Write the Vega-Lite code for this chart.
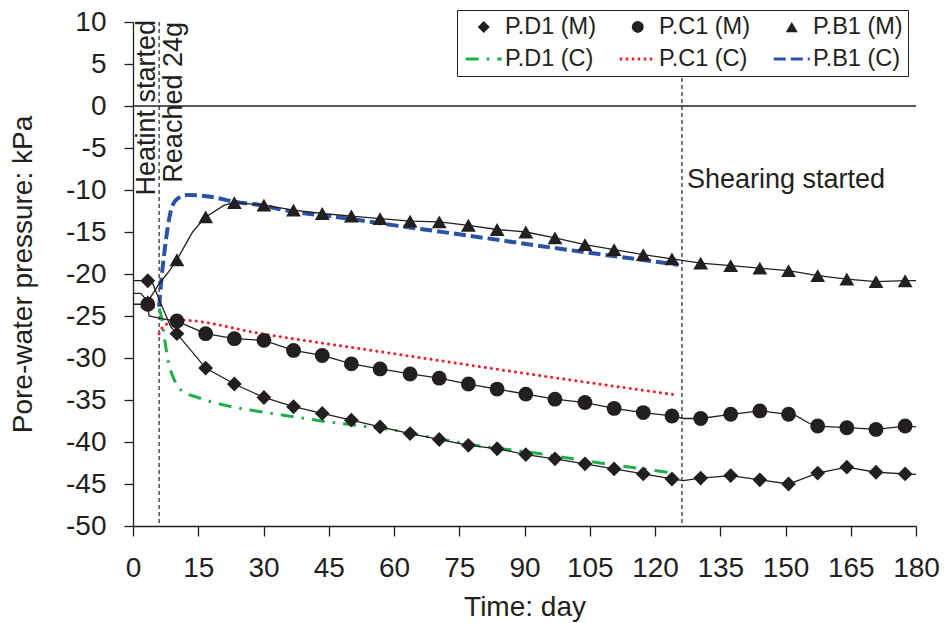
{
  "$schema": "https://vega.github.io/schema/vega-lite/v6.json",
  "width": 783,
  "height": 504,
  "autosize": {"type": "none"},
  "padding": {"left": 133, "top": 22, "right": 31, "bottom": 97},
  "background": "white",
  "config": {
    "font": "Liberation Sans",
    "view": {"stroke": null},
    "axis": {
      "grid": false,
      "domainColor": "#231f20",
      "domainWidth": 1.3,
      "tickColor": "#231f20",
      "tickWidth": 1.3,
      "labelColor": "#231f20",
      "titleColor": "#231f20",
      "labelFont": "Liberation Sans",
      "titleFont": "Liberation Sans",
      "labelFontSize": 28,
      "titleFontSize": 28,
      "titleFontWeight": "normal",
      "labelPadding": 18,
      "labelOverlap": false
    },
    "axisX": {"tickSize": 10, "labelFlush": false, "titlePadding": 11},
    "axisY": {"tickSize": 9, "titlePadding": 28},
    "legend": {
      "orient": "none",
      "legendX": 324,
      "legendY": -12,
      "direction": "horizontal",
      "columns": 3,
      "symbolSize": 144,
      "symbolStrokeWidth": 3,
      "labelFont": "Liberation Sans",
      "labelFontSize": 23.5,
      "labelColor": "#231f20",
      "labelLimit": 300,
      "padding": 5,
      "rowPadding": 7.3,
      "columnPadding": 17,
      "symbolOffset": 10,
      "labelOffset": 9.5,
      "strokeColor": "#231f20",
      "fillColor": "white"
    }
  },
  "datasets": {
    "measured": [
      {"series": "P.D1 (M)", "day": 0, "kpa": -20.8},
      {"series": "P.D1 (M)", "day": 3.4, "kpa": -20.8},
      {"series": "P.D1 (M)", "day": 4.5, "kpa": -21.1},
      {"series": "P.D1 (M)", "day": 6.4, "kpa": -23.5},
      {"series": "P.D1 (M)", "day": 8.7, "kpa": -26.3},
      {"series": "P.D1 (M)", "day": 10.1, "kpa": -27.1},
      {"series": "P.D1 (M)", "day": 16.7, "kpa": -31.2},
      {"series": "P.D1 (M)", "day": 23.3, "kpa": -33.1},
      {"series": "P.D1 (M)", "day": 30.1, "kpa": -34.7},
      {"series": "P.D1 (M)", "day": 36.9, "kpa": -35.8},
      {"series": "P.D1 (M)", "day": 43.5, "kpa": -36.6},
      {"series": "P.D1 (M)", "day": 50.2, "kpa": -37.4},
      {"series": "P.D1 (M)", "day": 56.8, "kpa": -38.2},
      {"series": "P.D1 (M)", "day": 63.7, "kpa": -39.0},
      {"series": "P.D1 (M)", "day": 70.4, "kpa": -39.7},
      {"series": "P.D1 (M)", "day": 77.1, "kpa": -40.4},
      {"series": "P.D1 (M)", "day": 83.7, "kpa": -40.8},
      {"series": "P.D1 (M)", "day": 90.3, "kpa": -41.5},
      {"series": "P.D1 (M)", "day": 97.0, "kpa": -42.0},
      {"series": "P.D1 (M)", "day": 103.9, "kpa": -42.6},
      {"series": "P.D1 (M)", "day": 110.6, "kpa": -43.2},
      {"series": "P.D1 (M)", "day": 117.3, "kpa": -43.8},
      {"series": "P.D1 (M)", "day": 123.9, "kpa": -44.4},
      {"series": "P.D1 (M)", "day": 126.5, "kpa": -44.6},
      {"series": "P.D1 (M)", "day": 130.5, "kpa": -44.3},
      {"series": "P.D1 (M)", "day": 137.4, "kpa": -44.0},
      {"series": "P.D1 (M)", "day": 144.1, "kpa": -44.5},
      {"series": "P.D1 (M)", "day": 150.7, "kpa": -45.0},
      {"series": "P.D1 (M)", "day": 157.4, "kpa": -43.7},
      {"series": "P.D1 (M)", "day": 164.1, "kpa": -43.0},
      {"series": "P.D1 (M)", "day": 170.8, "kpa": -43.6},
      {"series": "P.D1 (M)", "day": 177.5, "kpa": -43.8},
      {"series": "P.D1 (M)", "day": 180, "kpa": -43.85},

      {"series": "P.C1 (M)", "day": 0, "kpa": -23.6},
      {"series": "P.C1 (M)", "day": 3.4, "kpa": -23.6},
      {"series": "P.C1 (M)", "day": 3.7, "kpa": -25.0},
      {"series": "P.C1 (M)", "day": 6.5, "kpa": -25.3},
      {"series": "P.C1 (M)", "day": 10.1, "kpa": -25.6},
      {"series": "P.C1 (M)", "day": 16.7, "kpa": -27.1},
      {"series": "P.C1 (M)", "day": 23.3, "kpa": -27.7},
      {"series": "P.C1 (M)", "day": 30.1, "kpa": -27.9},
      {"series": "P.C1 (M)", "day": 36.9, "kpa": -29.1},
      {"series": "P.C1 (M)", "day": 43.5, "kpa": -29.7},
      {"series": "P.C1 (M)", "day": 50.2, "kpa": -30.7},
      {"series": "P.C1 (M)", "day": 56.8, "kpa": -31.3},
      {"series": "P.C1 (M)", "day": 63.7, "kpa": -31.9},
      {"series": "P.C1 (M)", "day": 70.4, "kpa": -32.4},
      {"series": "P.C1 (M)", "day": 77.1, "kpa": -33.1},
      {"series": "P.C1 (M)", "day": 83.7, "kpa": -33.7},
      {"series": "P.C1 (M)", "day": 90.3, "kpa": -34.3},
      {"series": "P.C1 (M)", "day": 97.0, "kpa": -34.9},
      {"series": "P.C1 (M)", "day": 103.9, "kpa": -35.3},
      {"series": "P.C1 (M)", "day": 110.6, "kpa": -36.0},
      {"series": "P.C1 (M)", "day": 117.3, "kpa": -36.5},
      {"series": "P.C1 (M)", "day": 123.9, "kpa": -36.9},
      {"series": "P.C1 (M)", "day": 126.5, "kpa": -37.2},
      {"series": "P.C1 (M)", "day": 130.5, "kpa": -37.2},
      {"series": "P.C1 (M)", "day": 137.4, "kpa": -36.7},
      {"series": "P.C1 (M)", "day": 144.1, "kpa": -36.3},
      {"series": "P.C1 (M)", "day": 150.7, "kpa": -36.7},
      {"series": "P.C1 (M)", "day": 152.5, "kpa": -36.9},
      {"series": "P.C1 (M)", "day": 155.5, "kpa": -37.8},
      {"series": "P.C1 (M)", "day": 157.4, "kpa": -38.1},
      {"series": "P.C1 (M)", "day": 164.1, "kpa": -38.3},
      {"series": "P.C1 (M)", "day": 170.8, "kpa": -38.5},
      {"series": "P.C1 (M)", "day": 177.5, "kpa": -38.1},
      {"series": "P.C1 (M)", "day": 180, "kpa": -38.2},

      {"series": "P.B1 (M)", "day": 0, "kpa": -22.3},
      {"series": "P.B1 (M)", "day": 1.8, "kpa": -22.3},
      {"series": "P.B1 (M)", "day": 3.4, "kpa": -23.3},
      {"series": "P.B1 (M)", "day": 6.1, "kpa": -21.1},
      {"series": "P.B1 (M)", "day": 8.4, "kpa": -19.6},
      {"series": "P.B1 (M)", "day": 10.1, "kpa": -18.3},
      {"series": "P.B1 (M)", "day": 12.6, "kpa": -16.0},
      {"series": "P.B1 (M)", "day": 13.7, "kpa": -15.0},
      {"series": "P.B1 (M)", "day": 16.7, "kpa": -13.2},
      {"series": "P.B1 (M)", "day": 21.0, "kpa": -11.8},
      {"series": "P.B1 (M)", "day": 23.3, "kpa": -11.5},
      {"series": "P.B1 (M)", "day": 30.1, "kpa": -11.8},
      {"series": "P.B1 (M)", "day": 36.9, "kpa": -12.4},
      {"series": "P.B1 (M)", "day": 43.5, "kpa": -12.8},
      {"series": "P.B1 (M)", "day": 50.2, "kpa": -13.1},
      {"series": "P.B1 (M)", "day": 56.8, "kpa": -13.4},
      {"series": "P.B1 (M)", "day": 63.7, "kpa": -13.7},
      {"series": "P.B1 (M)", "day": 70.4, "kpa": -13.8},
      {"series": "P.B1 (M)", "day": 77.1, "kpa": -14.2},
      {"series": "P.B1 (M)", "day": 83.7, "kpa": -14.7},
      {"series": "P.B1 (M)", "day": 90.3, "kpa": -15.0},
      {"series": "P.B1 (M)", "day": 97.0, "kpa": -15.7},
      {"series": "P.B1 (M)", "day": 103.9, "kpa": -16.5},
      {"series": "P.B1 (M)", "day": 110.6, "kpa": -17.1},
      {"series": "P.B1 (M)", "day": 117.3, "kpa": -17.7},
      {"series": "P.B1 (M)", "day": 123.9, "kpa": -18.2},
      {"series": "P.B1 (M)", "day": 130.5, "kpa": -18.7},
      {"series": "P.B1 (M)", "day": 137.4, "kpa": -19.0},
      {"series": "P.B1 (M)", "day": 144.1, "kpa": -19.3},
      {"series": "P.B1 (M)", "day": 150.7, "kpa": -19.6},
      {"series": "P.B1 (M)", "day": 157.4, "kpa": -20.2},
      {"series": "P.B1 (M)", "day": 164.1, "kpa": -20.6},
      {"series": "P.B1 (M)", "day": 170.8, "kpa": -20.9},
      {"series": "P.B1 (M)", "day": 177.5, "kpa": -20.8},
      {"series": "P.B1 (M)", "day": 180, "kpa": -20.8}
    ],
    "markers": [
      {"series": "P.D1 (M)", "day": 3.4, "kpa": -20.8},
      {"series": "P.D1 (M)", "day": 10.1, "kpa": -27.1},
      {"series": "P.D1 (M)", "day": 16.7, "kpa": -31.2},
      {"series": "P.D1 (M)", "day": 23.3, "kpa": -33.1},
      {"series": "P.D1 (M)", "day": 30.1, "kpa": -34.7},
      {"series": "P.D1 (M)", "day": 36.9, "kpa": -35.8},
      {"series": "P.D1 (M)", "day": 43.5, "kpa": -36.6},
      {"series": "P.D1 (M)", "day": 50.2, "kpa": -37.4},
      {"series": "P.D1 (M)", "day": 56.8, "kpa": -38.2},
      {"series": "P.D1 (M)", "day": 63.7, "kpa": -39.0},
      {"series": "P.D1 (M)", "day": 70.4, "kpa": -39.7},
      {"series": "P.D1 (M)", "day": 77.1, "kpa": -40.4},
      {"series": "P.D1 (M)", "day": 83.7, "kpa": -40.8},
      {"series": "P.D1 (M)", "day": 90.3, "kpa": -41.5},
      {"series": "P.D1 (M)", "day": 97.0, "kpa": -42.0},
      {"series": "P.D1 (M)", "day": 103.9, "kpa": -42.6},
      {"series": "P.D1 (M)", "day": 110.6, "kpa": -43.2},
      {"series": "P.D1 (M)", "day": 117.3, "kpa": -43.8},
      {"series": "P.D1 (M)", "day": 123.9, "kpa": -44.4},
      {"series": "P.D1 (M)", "day": 130.5, "kpa": -44.3},
      {"series": "P.D1 (M)", "day": 137.4, "kpa": -44.0},
      {"series": "P.D1 (M)", "day": 144.1, "kpa": -44.5},
      {"series": "P.D1 (M)", "day": 150.7, "kpa": -45.0},
      {"series": "P.D1 (M)", "day": 157.4, "kpa": -43.7},
      {"series": "P.D1 (M)", "day": 164.1, "kpa": -43.0},
      {"series": "P.D1 (M)", "day": 170.8, "kpa": -43.6},
      {"series": "P.D1 (M)", "day": 177.5, "kpa": -43.8},

      {"series": "P.C1 (M)", "day": 3.4, "kpa": -23.6},
      {"series": "P.C1 (M)", "day": 10.1, "kpa": -25.6},
      {"series": "P.C1 (M)", "day": 16.7, "kpa": -27.1},
      {"series": "P.C1 (M)", "day": 23.3, "kpa": -27.7},
      {"series": "P.C1 (M)", "day": 30.1, "kpa": -27.9},
      {"series": "P.C1 (M)", "day": 36.9, "kpa": -29.1},
      {"series": "P.C1 (M)", "day": 43.5, "kpa": -29.7},
      {"series": "P.C1 (M)", "day": 50.2, "kpa": -30.7},
      {"series": "P.C1 (M)", "day": 56.8, "kpa": -31.3},
      {"series": "P.C1 (M)", "day": 63.7, "kpa": -31.9},
      {"series": "P.C1 (M)", "day": 70.4, "kpa": -32.4},
      {"series": "P.C1 (M)", "day": 77.1, "kpa": -33.1},
      {"series": "P.C1 (M)", "day": 83.7, "kpa": -33.7},
      {"series": "P.C1 (M)", "day": 90.3, "kpa": -34.3},
      {"series": "P.C1 (M)", "day": 97.0, "kpa": -34.9},
      {"series": "P.C1 (M)", "day": 103.9, "kpa": -35.3},
      {"series": "P.C1 (M)", "day": 110.6, "kpa": -36.0},
      {"series": "P.C1 (M)", "day": 117.3, "kpa": -36.5},
      {"series": "P.C1 (M)", "day": 123.9, "kpa": -36.9},
      {"series": "P.C1 (M)", "day": 130.5, "kpa": -37.2},
      {"series": "P.C1 (M)", "day": 137.4, "kpa": -36.7},
      {"series": "P.C1 (M)", "day": 144.1, "kpa": -36.3},
      {"series": "P.C1 (M)", "day": 150.7, "kpa": -36.7},
      {"series": "P.C1 (M)", "day": 157.4, "kpa": -38.1},
      {"series": "P.C1 (M)", "day": 164.1, "kpa": -38.3},
      {"series": "P.C1 (M)", "day": 170.8, "kpa": -38.5},
      {"series": "P.C1 (M)", "day": 177.5, "kpa": -38.1},

      {"series": "P.B1 (M)", "day": 3.4, "kpa": -23.3},
      {"series": "P.B1 (M)", "day": 10.1, "kpa": -18.3},
      {"series": "P.B1 (M)", "day": 16.7, "kpa": -13.2},
      {"series": "P.B1 (M)", "day": 23.3, "kpa": -11.5},
      {"series": "P.B1 (M)", "day": 30.1, "kpa": -11.8},
      {"series": "P.B1 (M)", "day": 36.9, "kpa": -12.4},
      {"series": "P.B1 (M)", "day": 43.5, "kpa": -12.8},
      {"series": "P.B1 (M)", "day": 50.2, "kpa": -13.1},
      {"series": "P.B1 (M)", "day": 56.8, "kpa": -13.4},
      {"series": "P.B1 (M)", "day": 63.7, "kpa": -13.7},
      {"series": "P.B1 (M)", "day": 70.4, "kpa": -13.8},
      {"series": "P.B1 (M)", "day": 77.1, "kpa": -14.2},
      {"series": "P.B1 (M)", "day": 83.7, "kpa": -14.7},
      {"series": "P.B1 (M)", "day": 90.3, "kpa": -15.0},
      {"series": "P.B1 (M)", "day": 97.0, "kpa": -15.7},
      {"series": "P.B1 (M)", "day": 103.9, "kpa": -16.5},
      {"series": "P.B1 (M)", "day": 110.6, "kpa": -17.1},
      {"series": "P.B1 (M)", "day": 117.3, "kpa": -17.7},
      {"series": "P.B1 (M)", "day": 123.9, "kpa": -18.2},
      {"series": "P.B1 (M)", "day": 130.5, "kpa": -18.7},
      {"series": "P.B1 (M)", "day": 137.4, "kpa": -19.0},
      {"series": "P.B1 (M)", "day": 144.1, "kpa": -19.3},
      {"series": "P.B1 (M)", "day": 150.7, "kpa": -19.6},
      {"series": "P.B1 (M)", "day": 157.4, "kpa": -20.2},
      {"series": "P.B1 (M)", "day": 164.1, "kpa": -20.6},
      {"series": "P.B1 (M)", "day": 170.8, "kpa": -20.9},
      {"series": "P.B1 (M)", "day": 177.5, "kpa": -20.8}
    ],
    "computed": [
      {"series": "P.D1 (C)", "day": 6.0, "kpa": -24.1},
      {"series": "P.D1 (C)", "day": 6.5, "kpa": -25.0},
      {"series": "P.D1 (C)", "day": 7.2, "kpa": -27.5},
      {"series": "P.D1 (C)", "day": 8.1, "kpa": -30.4},
      {"series": "P.D1 (C)", "day": 9.5, "kpa": -32.6},
      {"series": "P.D1 (C)", "day": 11.2, "kpa": -33.9},
      {"series": "P.D1 (C)", "day": 14.9, "kpa": -34.7},
      {"series": "P.D1 (C)", "day": 21.8, "kpa": -35.7},
      {"series": "P.D1 (C)", "day": 29.4, "kpa": -36.4},
      {"series": "P.D1 (C)", "day": 37.1, "kpa": -37.0},
      {"series": "P.D1 (C)", "day": 44.8, "kpa": -37.6},
      {"series": "P.D1 (C)", "day": 52.5, "kpa": -38.1},
      {"series": "P.D1 (C)", "day": 60.1, "kpa": -38.6},
      {"series": "P.D1 (C)", "day": 67.0, "kpa": -39.3},
      {"series": "P.D1 (C)", "day": 79.0, "kpa": -40.4},
      {"series": "P.D1 (C)", "day": 93.6, "kpa": -41.4},
      {"series": "P.D1 (C)", "day": 107.4, "kpa": -42.5},
      {"series": "P.D1 (C)", "day": 124.5, "kpa": -43.7},

      {"series": "P.C1 (C)", "day": 6.0, "kpa": -27.1},
      {"series": "P.C1 (C)", "day": 6.6, "kpa": -26.5},
      {"series": "P.C1 (C)", "day": 8.0, "kpa": -25.9},
      {"series": "P.C1 (C)", "day": 11.0, "kpa": -25.5},
      {"series": "P.C1 (C)", "day": 29.4, "kpa": -27.1},
      {"series": "P.C1 (C)", "day": 61.4, "kpa": -29.6},
      {"series": "P.C1 (C)", "day": 67.8, "kpa": -30.1},
      {"series": "P.C1 (C)", "day": 95.0, "kpa": -32.2},
      {"series": "P.C1 (C)", "day": 125.0, "kpa": -34.4},

      {"series": "P.B1 (C)", "day": 6.0, "kpa": -23.9},
      {"series": "P.B1 (C)", "day": 6.45, "kpa": -21.1},
      {"series": "P.B1 (C)", "day": 7.2, "kpa": -17.5},
      {"series": "P.B1 (C)", "day": 8.0, "kpa": -14.4},
      {"series": "P.B1 (C)", "day": 8.75, "kpa": -12.4},
      {"series": "P.B1 (C)", "day": 10.3, "kpa": -11.0},
      {"series": "P.B1 (C)", "day": 12.6, "kpa": -10.6},
      {"series": "P.B1 (C)", "day": 17.9, "kpa": -10.8},
      {"series": "P.B1 (C)", "day": 23.3, "kpa": -11.4},
      {"series": "P.B1 (C)", "day": 29.4, "kpa": -11.8},
      {"series": "P.B1 (C)", "day": 34.8, "kpa": -12.4},
      {"series": "P.B1 (C)", "day": 48.0, "kpa": -13.3},
      {"series": "P.B1 (C)", "day": 61.4, "kpa": -14.3},
      {"series": "P.B1 (C)", "day": 76.7, "kpa": -15.4},
      {"series": "P.B1 (C)", "day": 92.0, "kpa": -16.55},
      {"series": "P.B1 (C)", "day": 107.4, "kpa": -17.65},
      {"series": "P.B1 (C)", "day": 125.4, "kpa": -18.9}
    ],
    "events": [
      {"event": "Heating started", "day": 6.0},
      {"event": "Shearing started", "day": 126.2}
    ],
    "notes": [
      {"note": "Heatint started", "day": 6.0, "kpa": 10},
      {"note": "Reached 24g", "day": 6.0, "kpa": 10},
      {"note": "Shearing started", "day": 126.2, "kpa": -9.8}
    ]
  },
  "layer": [
    {
      "data": {"values": [{"kpa": 0}]},
      "mark": {"type": "rule", "color": "#231f20", "strokeWidth": 1.3},
      "encoding": {
        "y": {"field": "kpa", "type": "quantitative", "scale": {"domain": [-50, 10], "nice": false, "zero": false}, "title": "Pore-water pressure: kPa",
              "axis": {"values": [-50, -45, -40, -35, -30, -25, -20, -15, -10, -5, 0, 5, 10], "labelExpr": "toString(datum.value)"}}
      }
    },
    {
      "data": {"name": "events"},
      "mark": {"type": "rule", "color": "#231f20", "strokeWidth": 1.2, "strokeDash": [4, 3]},
      "encoding": {
        "x": {"field": "day", "type": "quantitative", "scale": {"domain": [0, 180], "nice": false, "zero": false}, "title": "Time: day",
              "axis": {"values": [0, 15, 30, 45, 60, 75, 90, 105, 120, 135, 150, 165, 180]}}
      }
    },
    {
      "data": {"name": "computed"},
      "transform": [{"filter": "datum.series === 'P.D1 (C)'"}],
      "mark": {"type": "line", "color": "#1eaf4b", "strokeWidth": 3, "strokeDash": [13, 8, 2.5, 8], "interpolate": "monotone"},
      "encoding": {
        "x": {"field": "day", "type": "quantitative", "scale": {"domain": [0, 180], "nice": false, "zero": false}, "title": "Time: day"},
        "y": {"field": "kpa", "type": "quantitative", "scale": {"domain": [-50, 10], "nice": false, "zero": false}, "title": "Pore-water pressure: kPa"}
      }
    },
    {
      "data": {"name": "computed"},
      "transform": [{"filter": "datum.series === 'P.C1 (C)'"}],
      "mark": {"type": "line", "color": "#f0202a", "strokeWidth": 3, "strokeDash": [0.1, 6], "strokeCap": "round", "interpolate": "monotone"},
      "encoding": {
        "x": {"field": "day", "type": "quantitative", "scale": {"domain": [0, 180], "nice": false, "zero": false}, "title": "Time: day"},
        "y": {"field": "kpa", "type": "quantitative", "scale": {"domain": [-50, 10], "nice": false, "zero": false}, "title": "Pore-water pressure: kPa"}
      }
    },
    {
      "data": {"name": "computed"},
      "transform": [{"filter": "datum.series === 'P.B1 (C)'"}],
      "mark": {"type": "line", "color": "#2c53a3", "strokeWidth": 4, "strokeDash": [12, 5], "interpolate": "monotone"},
      "encoding": {
        "x": {"field": "day", "type": "quantitative", "scale": {"domain": [0, 180], "nice": false, "zero": false}, "title": "Time: day"},
        "y": {"field": "kpa", "type": "quantitative", "scale": {"domain": [-50, 10], "nice": false, "zero": false}, "title": "Pore-water pressure: kPa"}
      }
    },
    {
      "data": {"name": "measured"},
      "mark": {"type": "line", "color": "#231f20", "strokeWidth": 1.3},
      "encoding": {
        "x": {"field": "day", "type": "quantitative", "scale": {"domain": [0, 180], "nice": false, "zero": false}, "title": "Time: day"},
        "y": {"field": "kpa", "type": "quantitative", "scale": {"domain": [-50, 10], "nice": false, "zero": false}, "title": "Pore-water pressure: kPa"},
        "detail": {"field": "series", "type": "nominal"}
      }
    },
    {
      "data": {"name": "markers"},
      "mark": {"type": "point", "size": 220, "opacity": 1, "strokeWidth": 3},
      "encoding": {
        "x": {"field": "day", "type": "quantitative", "scale": {"domain": [0, 180], "nice": false, "zero": false}, "title": "Time: day"},
        "y": {"field": "kpa", "type": "quantitative", "scale": {"domain": [-50, 10], "nice": false, "zero": false}, "title": "Pore-water pressure: kPa"},
        "shape": {
          "field": "series", "type": "nominal",
          "scale": {
            "domain": ["P.D1 (M)", "P.C1 (M)", "P.B1 (M)", "P.D1 (C)", "P.C1 (C)", "P.B1 (C)"],
            "range": ["diamond", "circle", "triangle-up", "M-3,0H3", "M-3,0H3", "M-3,0H3"]
          },
          "legend": {"title": null}
        },
        "fill": {
          "field": "series", "type": "nominal",
          "scale": {
            "domain": ["P.D1 (M)", "P.C1 (M)", "P.B1 (M)", "P.D1 (C)", "P.C1 (C)", "P.B1 (C)"],
            "range": ["#231f20", "#231f20", "#231f20", "transparent", "transparent", "transparent"]
          },
          "legend": {"title": null}
        },
        "stroke": {
          "field": "series", "type": "nominal",
          "scale": {
            "domain": ["P.D1 (M)", "P.C1 (M)", "P.B1 (M)", "P.D1 (C)", "P.C1 (C)", "P.B1 (C)"],
            "range": ["transparent", "transparent", "transparent", "#1eaf4b", "#f0202a", "#2c53a3"]
          },
          "legend": {"title": null}
        },
        "strokeDash": {
          "field": "series", "type": "nominal",
          "scale": {
            "domain": ["P.D1 (M)", "P.C1 (M)", "P.B1 (M)", "P.D1 (C)", "P.C1 (C)", "P.B1 (C)"],
            "range": [[1, 0], [1, 0], [1, 0], [13, 8, 2.5, 8], [2.5, 3.5], [12, 5]]
          },
          "legend": {"title": null}
        }
      }
    },
    {
      "data": {"name": "notes"},
      "transform": [{"filter": "datum.note === 'Heatint started'"}],
      "mark": {"type": "text", "angle": 270, "align": "right", "baseline": "alphabetic", "dx": 2, "dy": -4.5, "fontSize": 27, "font": "Liberation Sans", "color": "#231f20"},
      "encoding": {
        "x": {"field": "day", "type": "quantitative", "scale": {"domain": [0, 180], "nice": false, "zero": false}, "title": "Time: day"},
        "y": {"field": "kpa", "type": "quantitative", "scale": {"domain": [-50, 10], "nice": false, "zero": false}, "title": "Pore-water pressure: kPa"},
        "text": {"field": "note", "type": "nominal"}
      }
    },
    {
      "data": {"name": "notes"},
      "transform": [{"filter": "datum.note === 'Reached 24g'"}],
      "mark": {"type": "text", "angle": 270, "align": "right", "baseline": "alphabetic", "dx": 0, "dy": 23, "fontSize": 27, "font": "Liberation Sans", "color": "#231f20"},
      "encoding": {
        "x": {"field": "day", "type": "quantitative", "scale": {"domain": [0, 180], "nice": false, "zero": false}, "title": "Time: day"},
        "y": {"field": "kpa", "type": "quantitative", "scale": {"domain": [-50, 10], "nice": false, "zero": false}, "title": "Pore-water pressure: kPa"},
        "text": {"field": "note", "type": "nominal"}
      }
    },
    {
      "data": {"name": "notes"},
      "transform": [{"filter": "datum.note === 'Shearing started'"}],
      "mark": {"type": "text", "align": "left", "baseline": "alphabetic", "dx": 5, "fontSize": 27, "font": "Liberation Sans", "color": "#231f20"},
      "encoding": {
        "x": {"field": "day", "type": "quantitative", "scale": {"domain": [0, 180], "nice": false, "zero": false}, "title": "Time: day"},
        "y": {"field": "kpa", "type": "quantitative", "scale": {"domain": [-50, 10], "nice": false, "zero": false}, "title": "Pore-water pressure: kPa"},
        "text": {"field": "note", "type": "nominal"}
      }
    }
  ]
}
